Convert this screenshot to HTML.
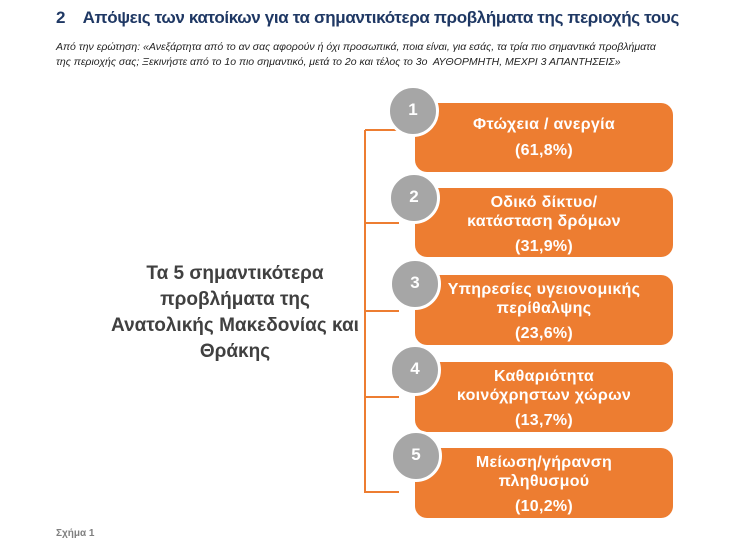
<!DOCTYPE html>
<html><head><meta charset="utf-8"><style>
body{margin:0;width:731px;height:554px;background:#fff;position:relative;overflow:hidden;font-family:"Liberation Sans","DejaVu Sans",sans-serif}
.a{position:absolute}
.box{position:absolute;left:415px;width:258px;background:#ed7d31;border-radius:12px;color:#fff;font-weight:bold;font-size:16px;text-align:center;letter-spacing:0.3px;box-sizing:border-box}
.box div{position:absolute;left:0;right:0;white-space:nowrap}
.c{position:absolute;width:46px;height:46px;border-radius:50%;background:#a6a6a6;border:3px solid #fff;color:#fff;font-weight:bold;font-size:17px;text-align:center;line-height:44px;box-sizing:content-box}
.t{position:absolute;left:365px;width:34px;height:2px;background:#ed7d31}
</style></head><body>
<div class="a" style="left:56px;top:8px;font-size:17px;font-weight:bold;color:#1f3864;white-space:nowrap;letter-spacing:-0.35px">2&nbsp;&nbsp;&nbsp;&nbsp;Απόψεις των κατοίκων για τα σημαντικότερα προβλήματα της περιοχής τους</div>
<div class="a" style="left:56px;top:40px;font-size:10.5px;font-style:italic;color:#222;line-height:15px;width:660px">Από την ερώτηση: «Ανεξάρτητα από το αν σας αφορούν ή όχι προσωπικά, ποια είναι, για εσάς, τα τρία πιο σημαντικά προβλήματα<br>της περιοχής σας; Ξεκινήστε από το 1ο πιο σημαντικό, μετά το 2ο και τέλος το 3ο&nbsp; ΑΥΘΟΡΜΗΤΗ, ΜΕΧΡΙ 3 ΑΠΑΝΤΗΣΕΙΣ»</div>
<div class="a" style="left:56px;top:528px;font-size:10px;font-weight:bold;color:#7f7f7f">Σχήμα 1</div>
<div class="a" style="left:80px;top:261px;width:310px;text-align:center;font-size:19px;font-weight:bold;color:#404040;line-height:26px">Τα 5 σημαντικότερα<br>προβλήματα της<br>Ανατολικής Μακεδονίας και<br>Θράκης</div>
<div class="a" style="left:364px;top:130px;width:2px;height:363px;background:#ed7d31"></div>
<div class="t" style="top:129px"></div><div class="t" style="top:222px"></div><div class="t" style="top:310px"></div><div class="t" style="top:396px"></div><div class="t" style="top:491px"></div>
<div class="box" style="top:103px;height:69px"><div style="top:13px">Φτώχεια / ανεργία</div><div style="top:39px">(61,8%)</div></div>
<div class="box" style="top:188px;height:69px"><div style="top:6px">Οδικό δίκτυο/</div><div style="top:25px">κατάσταση δρόμων</div><div style="top:50px">(31,9%)</div></div>
<div class="box" style="top:275px;height:70px"><div style="top:6px">Υπηρεσίες υγειονομικής</div><div style="top:25px">περίθαλψης</div><div style="top:50px">(23,6%)</div></div>
<div class="box" style="top:362px;height:70px"><div style="top:6px">Καθαριότητα</div><div style="top:25px">κοινόχρηστων χώρων</div><div style="top:50px">(13,7%)</div></div>
<div class="box" style="top:448px;height:70px"><div style="top:6px">Μείωση/γήρανση</div><div style="top:25px">πληθυσμού</div><div style="top:50px">(10,2%)</div></div>
<div class="c" style="left:387px;top:85px">1</div>
<div class="c" style="left:388px;top:172px">2</div>
<div class="c" style="left:389px;top:258px">3</div>
<div class="c" style="left:389px;top:344px">4</div>
<div class="c" style="left:390px;top:430px">5</div>
</body></html>
